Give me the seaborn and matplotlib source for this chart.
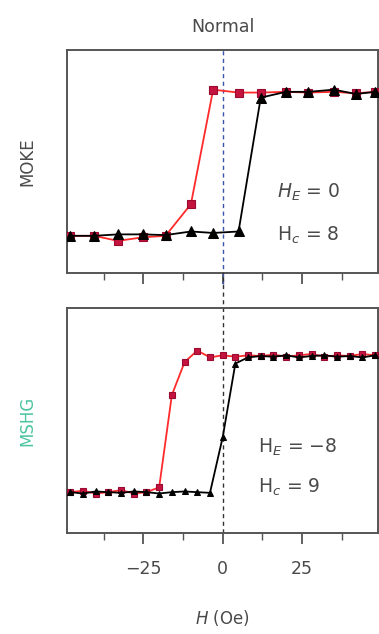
import numpy as np
import pandas as pd
import seaborn as sns
import matplotlib
matplotlib.use("Agg")
import matplotlib.pyplot as plt
from matplotlib.ticker import MultipleLocator

# ---------------- data ----------------
title = "Normal"
moke_h = [-48, -40.5, -33, -25, -18, -10, -3, 5, 12, 20, 27, 35, 42, 48]
moke_red = [-1.0, -1.0, -1.07, -1.02, -1.0, -0.56, 1.03, 0.99, 0.99, 1.0, 0.99, 1.0, 0.98, 1.0]
moke_black = [-1.0, -1.0, -0.98, -0.98, -0.99, -0.94, -0.96, -0.94, 0.92, 1.0, 1.0, 1.03, 0.97, 1.0]

mshg_h = [-48, -44, -40, -36, -32, -28, -24, -20, -16, -12, -8, -4, 0,
          4, 8, 12, 16, 20, 24, 28, 32, 36, 40, 44, 48]
mshg_red = [-1.0, -0.98, -1.02, -1.0, -0.97, -1.02, -1.0, -0.93, 0.42, 0.90, 1.07, 0.97, 1.0,
            0.98, 1.0, 0.99, 1.01, 0.98, 1.0, 1.02, 0.98, 1.0, 0.99, 1.02, 1.0]
mshg_black = [-1.0, -1.02, -0.99, -1.0, -1.01, -0.99, -1.0, -1.02, -1.0, -0.99, -1.0, -1.01, -0.2,
              0.88, 0.97, 0.99, 0.98, 1.0, 0.97, 0.99, 1.0, 0.98, 0.99, 0.97, 1.0]

ylabels = ["MOKE", "MSHG"]
notes = [("$H_E$ = 0", "H$_c$ = 8"), ("H$_E$ = −8", "H$_c$ = 9")]
xticks = [-25, 0, 25]
xticklabels = ["−25", "0", "25"]
xlabel = "$H$ (Oe)"

# ---------------- style ----------------
sns.set_theme(style="white")
plt.rcParams["font.family"] = ["DejaVu Sans"]
plt.rcParams["mathtext.fontset"] = "dejavusans"

RED_LINE = "#ff2a2a"
RED_FACE = "#c4143e"
RED_EDGE = "#9a0a30"
TXT = "#4a4a4a"
SPINE = "#555555"

fig = plt.figure(figsize=(3.79, 6.34), dpi=100)
ax1 = fig.add_axes([0.177, 0.569, 0.821, 0.352])
ax2 = fig.add_axes([0.177, 0.159, 0.821, 0.355])

panels = [
    (ax1, moke_h, moke_red, moke_black, (-1.52, 1.58), 6.2, 6.8, "#3a55a8", 1.0),
    (ax2, mshg_h, mshg_red, mshg_black, (-1.60, 1.69), 4.6, 5.0, "#333333", 1.16),
]

for i, (ax, h, r, b, ylim, ms_sq, ms_tr, vcol, vtop) in enumerate(panels):
    ax.axvline(0, ymin=(-0.05 if i == 0 else 0), ymax=vtop, color=vcol,
               ls=(0, (3, 2.5)), lw=1.0, zorder=1, clip_on=False)
    df_r = pd.DataFrame({"H": h, "M": r})
    df_b = pd.DataFrame({"H": h, "M": b})
    sns.lineplot(data=df_r, x="H", y="M", ax=ax, sort=False, color=RED_LINE, lw=1.3,
                 marker="s", markersize=ms_sq, markerfacecolor=RED_FACE,
                 markeredgecolor=RED_EDGE, markeredgewidth=0.8, zorder=3)
    sns.lineplot(data=df_b, x="H", y="M", ax=ax, sort=False, color="black", lw=1.3,
                 marker="^", markersize=ms_tr, markerfacecolor="black",
                 markeredgecolor="black", zorder=4)
    ax.set_xlim(-49, 49)
    ax.set_ylim(*ylim)
    ax.set_yticks([])
    ax.set_xticks(xticks)
    ax.xaxis.set_minor_locator(MultipleLocator(12.5))
    ax.tick_params(axis="x", which="major", direction="out", length=8, width=1.3,
                   color=SPINE, labelsize=12.5, labelcolor=TXT, bottom=True, pad=11)
    ax.tick_params(axis="x", which="minor", direction="out", length=5, width=1.0,
                   color=SPINE, bottom=True)
    for s in ax.spines.values():
        s.set_color(SPINE)
        s.set_linewidth(1.4)
    ax.set_xlabel("")
    ax.set_ylabel(ylabels[i], fontsize=12, color=(TXT if i == 0 else "#4cc4a0"), labelpad=22)
    ax.grid(False)

ax1.tick_params(axis="x", labelbottom=False)
ax1.set_title(title, fontsize=12.5, color=TXT, pad=13)

# annotations
ax1.text(17, -0.39, notes[0][0], fontsize=13.5, color=TXT, va="center", ha="left")
ax1.text(17, -1.0, notes[0][1], fontsize=13.5, color=TXT, va="center", ha="left")
ax2.text(11, -0.34, notes[1][0], fontsize=13.5, color=TXT, va="center", ha="left")
ax2.text(11, -0.93, notes[1][1], fontsize=13.5, color=TXT, va="center", ha="left")

ax2.set_xticklabels(xticklabels)
ax2.set_xlabel(xlabel, fontsize=12, color=TXT, labelpad=22)

fig.savefig("out.png", dpi=100)
